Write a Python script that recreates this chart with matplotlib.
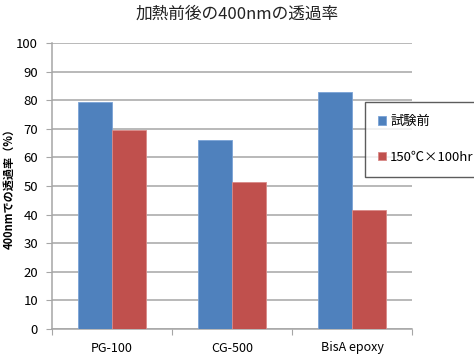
import matplotlib
matplotlib.use("Agg")
import matplotlib.pyplot as plt
import numpy as np

plt.rcParams['font.family'] = ['Noto Sans CJK JP', 'DejaVu Sans']

categories = ['PG-100', 'CG-500', 'BisA epoxy']
before = [79.3, 66.1, 83.0]
after = [69.7, 51.5, 41.7]
series_names = ['試験前', '150℃×100hr']
yticks = [0, 10, 20, 30, 40, 50, 60, 70, 80, 90, 100]

fig = plt.figure(figsize=(4.74, 3.56), dpi=100)
ax = fig.add_axes([52 / 474, 1 - 329 / 356, 360 / 474, 286 / 356])

x = np.arange(len(categories))
w = 0.283
ax.bar(x - w / 2, before, w, color='#4f81bd', edgecolor='#7aa3d6', linewidth=0.6,
       label=series_names[0], zorder=3)
ax.bar(x + w / 2, after, w, color='#c0504d', edgecolor='#d98a88', linewidth=0.6,
       label=series_names[1], zorder=3)

ax.set_xlim(-0.5, 2.5)
ax.set_ylim(0, 100)
ax.set_yticks(yticks)
ax.yaxis.grid(True, color='#a6a6a6', linewidth=1.1, zorder=0)
ax.set_axisbelow(True)

ax.set_xticks([-0.5, 0.5, 1.5, 2.5])
ax.set_xticklabels([])
ax.set_xticks(x, minor=True)
ax.set_xticklabels(categories, minor=True, fontsize=9)
ax.tick_params(axis='x', which='minor', length=0, pad=9)
ax.tick_params(axis='x', which='major', length=4, color='#a6a6a6', direction='out')
ax.tick_params(axis='y', length=4, color='#a6a6a6', labelsize=9.5, pad=6)

for side in ['top', 'right']:
    ax.spines[side].set_visible(False)
ax.spines['left'].set_color('#a6a6a6')
ax.spines['bottom'].set_color('#a6a6a6')
ax.spines['left'].set_linewidth(1.1)
ax.spines['bottom'].set_linewidth(1.1)

ax.set_ylabel('400nmでの透過率（%）', fontsize=8, fontweight='bold')
ax.yaxis.set_label_coords(-0.1, 0.5)
fig.suptitle('加熱前後の400nmの透過率', y=0.985, fontsize=12, color='#222222')

leg = fig.legend(loc='upper left', bbox_to_anchor=(365 / 474, 1 - 102 / 356),
                 fontsize=9.5, frameon=True, fancybox=False, handlelength=0.6,
                 handleheight=0.6, handletextpad=0.3, labelspacing=1.7,
                 borderpad=1.0, borderaxespad=0)
leg.get_frame().set_edgecolor('#333333')
leg.get_frame().set_linewidth(1.0)

fig.savefig('out.png', dpi=100)
